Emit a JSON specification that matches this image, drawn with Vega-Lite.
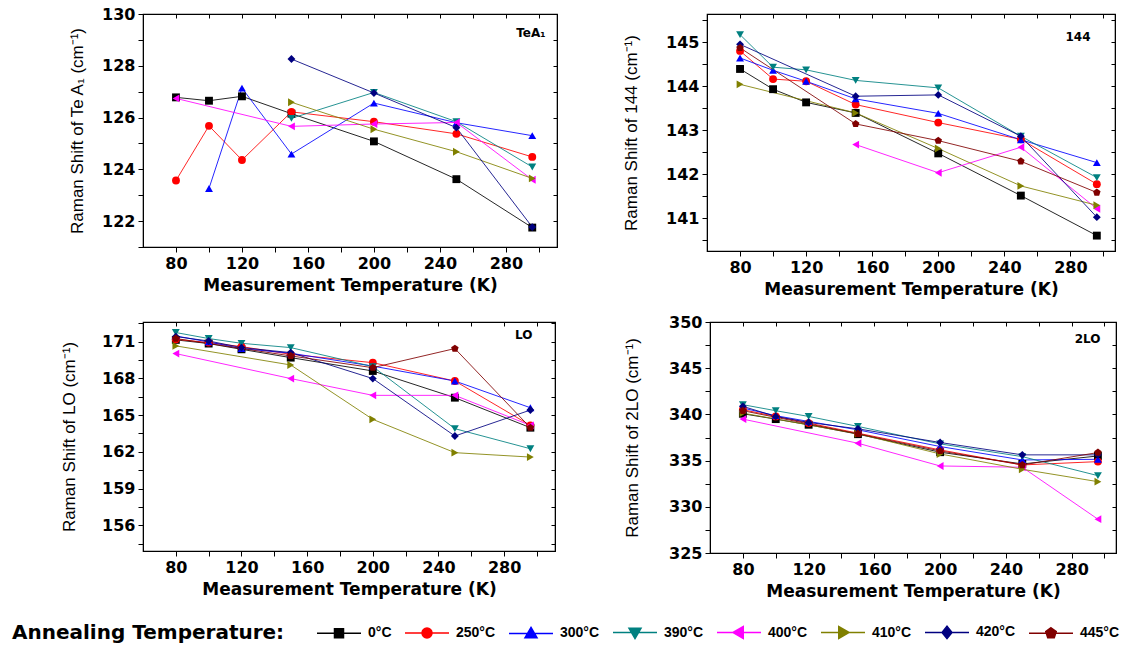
{
  "$schema": "https://vega.github.io/schema/vega-lite/v6.json",
  "background": "white",
  "padding": {"left": 12, "top": 5, "right": 5, "bottom": 5},
  "config": {
    "view": {"stroke": "black", "strokeWidth": 1.2},
    "axis": {
      "grid": false,
      "domainColor": "black",
      "tickColor": "black",
      "labelColor": "black",
      "titleColor": "black",
      "labelFont": "DejaVu Sans",
      "titleFont": "Liberation Sans",
      "labelFontWeight": "bold",
      "labelFontSize": 16,
      "titleFontSize": 17,
      "labelPadding": 3
    },
    "title": {"font": "DejaVu Sans", "fontWeight": "bold", "fontSize": 12, "color": "black"}
  },
  "datasets": {
    "raman": [
      {"panel":"TeA1","T":80,"anneal":"0°C","shift":126.78},
      {"panel":"TeA1","T":100,"anneal":"0°C","shift":126.65},
      {"panel":"TeA1","T":120,"anneal":"0°C","shift":126.82},
      {"panel":"TeA1","T":150,"anneal":"0°C","shift":126.15},
      {"panel":"TeA1","T":200,"anneal":"0°C","shift":125.08},
      {"panel":"TeA1","T":250,"anneal":"0°C","shift":123.62},
      {"panel":"TeA1","T":296,"anneal":"0°C","shift":121.75},
      {"panel":"TeA1","T":80,"anneal":"250°C","shift":123.57},
      {"panel":"TeA1","T":100,"anneal":"250°C","shift":125.68},
      {"panel":"TeA1","T":120,"anneal":"250°C","shift":124.36},
      {"panel":"TeA1","T":150,"anneal":"250°C","shift":126.22},
      {"panel":"TeA1","T":200,"anneal":"250°C","shift":125.84},
      {"panel":"TeA1","T":250,"anneal":"250°C","shift":125.37},
      {"panel":"TeA1","T":296,"anneal":"250°C","shift":124.48},
      {"panel":"TeA1","T":100,"anneal":"300°C","shift":123.26},
      {"panel":"TeA1","T":120,"anneal":"300°C","shift":127.14},
      {"panel":"TeA1","T":150,"anneal":"300°C","shift":124.59},
      {"panel":"TeA1","T":200,"anneal":"300°C","shift":126.56},
      {"panel":"TeA1","T":250,"anneal":"300°C","shift":125.8},
      {"panel":"TeA1","T":296,"anneal":"300°C","shift":125.3},
      {"panel":"TeA1","T":150,"anneal":"390°C","shift":125.97},
      {"panel":"TeA1","T":200,"anneal":"390°C","shift":126.97},
      {"panel":"TeA1","T":250,"anneal":"390°C","shift":125.84},
      {"panel":"TeA1","T":296,"anneal":"390°C","shift":124.09},
      {"panel":"TeA1","T":80,"anneal":"400°C","shift":126.74},
      {"panel":"TeA1","T":150,"anneal":"400°C","shift":125.66},
      {"panel":"TeA1","T":200,"anneal":"400°C","shift":125.75},
      {"panel":"TeA1","T":250,"anneal":"400°C","shift":125.81},
      {"panel":"TeA1","T":296,"anneal":"400°C","shift":123.6},
      {"panel":"TeA1","T":150,"anneal":"410°C","shift":126.59},
      {"panel":"TeA1","T":200,"anneal":"410°C","shift":125.55},
      {"panel":"TeA1","T":250,"anneal":"410°C","shift":124.68},
      {"panel":"TeA1","T":296,"anneal":"410°C","shift":123.65},
      {"panel":"TeA1","T":150,"anneal":"420°C","shift":128.26},
      {"panel":"TeA1","T":200,"anneal":"420°C","shift":126.95},
      {"panel":"TeA1","T":250,"anneal":"420°C","shift":125.61},
      {"panel":"TeA1","T":296,"anneal":"420°C","shift":121.77},

      {"panel":"144","T":80,"anneal":"0°C","shift":144.39},
      {"panel":"144","T":100,"anneal":"0°C","shift":143.93},
      {"panel":"144","T":120,"anneal":"0°C","shift":143.63},
      {"panel":"144","T":150,"anneal":"0°C","shift":143.39},
      {"panel":"144","T":200,"anneal":"0°C","shift":142.47},
      {"panel":"144","T":250,"anneal":"0°C","shift":141.51},
      {"panel":"144","T":296,"anneal":"0°C","shift":140.6},
      {"panel":"144","T":80,"anneal":"250°C","shift":144.8},
      {"panel":"144","T":100,"anneal":"250°C","shift":144.16},
      {"panel":"144","T":120,"anneal":"250°C","shift":144.11},
      {"panel":"144","T":150,"anneal":"250°C","shift":143.58},
      {"panel":"144","T":200,"anneal":"250°C","shift":143.17},
      {"panel":"144","T":250,"anneal":"250°C","shift":142.79},
      {"panel":"144","T":296,"anneal":"250°C","shift":141.77},
      {"panel":"144","T":80,"anneal":"300°C","shift":144.64},
      {"panel":"144","T":100,"anneal":"300°C","shift":144.36},
      {"panel":"144","T":120,"anneal":"300°C","shift":144.11},
      {"panel":"144","T":150,"anneal":"300°C","shift":143.71},
      {"panel":"144","T":200,"anneal":"300°C","shift":143.38},
      {"panel":"144","T":250,"anneal":"300°C","shift":142.78},
      {"panel":"144","T":296,"anneal":"300°C","shift":142.26},
      {"panel":"144","T":80,"anneal":"390°C","shift":145.17},
      {"panel":"144","T":100,"anneal":"390°C","shift":144.43},
      {"panel":"144","T":120,"anneal":"390°C","shift":144.37},
      {"panel":"144","T":150,"anneal":"390°C","shift":144.13},
      {"panel":"144","T":200,"anneal":"390°C","shift":143.96},
      {"panel":"144","T":250,"anneal":"390°C","shift":142.86},
      {"panel":"144","T":296,"anneal":"390°C","shift":141.92},
      {"panel":"144","T":150,"anneal":"400°C","shift":142.67},
      {"panel":"144","T":200,"anneal":"400°C","shift":142.03},
      {"panel":"144","T":250,"anneal":"400°C","shift":142.61},
      {"panel":"144","T":296,"anneal":"400°C","shift":141.21},
      {"panel":"144","T":80,"anneal":"410°C","shift":144.04},
      {"panel":"144","T":150,"anneal":"410°C","shift":143.39},
      {"panel":"144","T":200,"anneal":"410°C","shift":142.58},
      {"panel":"144","T":250,"anneal":"410°C","shift":141.73},
      {"panel":"144","T":296,"anneal":"410°C","shift":141.29},
      {"panel":"144","T":80,"anneal":"420°C","shift":144.95},
      {"panel":"144","T":150,"anneal":"420°C","shift":143.77},
      {"panel":"144","T":200,"anneal":"420°C","shift":143.8},
      {"panel":"144","T":250,"anneal":"420°C","shift":142.86},
      {"panel":"144","T":296,"anneal":"420°C","shift":141.02},
      {"panel":"144","T":80,"anneal":"445°C","shift":144.87},
      {"panel":"144","T":150,"anneal":"445°C","shift":143.14},
      {"panel":"144","T":200,"anneal":"445°C","shift":142.76},
      {"panel":"144","T":250,"anneal":"445°C","shift":142.29},
      {"panel":"144","T":296,"anneal":"445°C","shift":141.58},

      {"panel":"LO","T":80,"anneal":"0°C","shift":171.14},
      {"panel":"LO","T":100,"anneal":"0°C","shift":170.84},
      {"panel":"LO","T":120,"anneal":"0°C","shift":170.37},
      {"panel":"LO","T":150,"anneal":"0°C","shift":169.69},
      {"panel":"LO","T":200,"anneal":"0°C","shift":168.6},
      {"panel":"LO","T":250,"anneal":"0°C","shift":166.42},
      {"panel":"LO","T":296,"anneal":"0°C","shift":163.97},
      {"panel":"LO","T":80,"anneal":"250°C","shift":171.19},
      {"panel":"LO","T":100,"anneal":"250°C","shift":170.92},
      {"panel":"LO","T":120,"anneal":"250°C","shift":170.59},
      {"panel":"LO","T":150,"anneal":"250°C","shift":169.96},
      {"panel":"LO","T":200,"anneal":"250°C","shift":169.28},
      {"panel":"LO","T":250,"anneal":"250°C","shift":167.78},
      {"panel":"LO","T":296,"anneal":"250°C","shift":164.16},
      {"panel":"LO","T":80,"anneal":"300°C","shift":171.46},
      {"panel":"LO","T":100,"anneal":"300°C","shift":170.97},
      {"panel":"LO","T":120,"anneal":"300°C","shift":170.43},
      {"panel":"LO","T":150,"anneal":"300°C","shift":170.05},
      {"panel":"LO","T":200,"anneal":"300°C","shift":169.0},
      {"panel":"LO","T":250,"anneal":"300°C","shift":167.78},
      {"panel":"LO","T":296,"anneal":"300°C","shift":165.6},
      {"panel":"LO","T":80,"anneal":"390°C","shift":171.74},
      {"panel":"LO","T":100,"anneal":"390°C","shift":171.25},
      {"panel":"LO","T":120,"anneal":"390°C","shift":170.86},
      {"panel":"LO","T":150,"anneal":"390°C","shift":170.51},
      {"panel":"LO","T":200,"anneal":"390°C","shift":168.96},
      {"panel":"LO","T":250,"anneal":"390°C","shift":163.89},
      {"panel":"LO","T":296,"anneal":"390°C","shift":162.25},
      {"panel":"LO","T":80,"anneal":"400°C","shift":170.02},
      {"panel":"LO","T":150,"anneal":"400°C","shift":167.98},
      {"panel":"LO","T":200,"anneal":"400°C","shift":166.61},
      {"panel":"LO","T":250,"anneal":"400°C","shift":166.61},
      {"panel":"LO","T":296,"anneal":"400°C","shift":164.16},
      {"panel":"LO","T":80,"anneal":"410°C","shift":170.65},
      {"panel":"LO","T":150,"anneal":"410°C","shift":169.09},
      {"panel":"LO","T":200,"anneal":"410°C","shift":164.65},
      {"panel":"LO","T":250,"anneal":"410°C","shift":161.93},
      {"panel":"LO","T":296,"anneal":"410°C","shift":161.57},
      {"panel":"LO","T":80,"anneal":"420°C","shift":171.41},
      {"panel":"LO","T":100,"anneal":"420°C","shift":171.05},
      {"panel":"LO","T":120,"anneal":"420°C","shift":170.51},
      {"panel":"LO","T":150,"anneal":"420°C","shift":170.1},
      {"panel":"LO","T":200,"anneal":"420°C","shift":167.98},
      {"panel":"LO","T":250,"anneal":"420°C","shift":163.29},
      {"panel":"LO","T":296,"anneal":"420°C","shift":165.41},
      {"panel":"LO","T":80,"anneal":"445°C","shift":171.25},
      {"panel":"LO","T":150,"anneal":"445°C","shift":169.83},
      {"panel":"LO","T":200,"anneal":"445°C","shift":168.87},
      {"panel":"LO","T":250,"anneal":"445°C","shift":170.43},
      {"panel":"LO","T":296,"anneal":"445°C","shift":163.97},

      {"panel":"2LO","T":80,"anneal":"0°C","shift":340.07},
      {"panel":"2LO","T":100,"anneal":"0°C","shift":339.49},
      {"panel":"2LO","T":120,"anneal":"0°C","shift":338.88},
      {"panel":"2LO","T":150,"anneal":"0°C","shift":337.86},
      {"panel":"2LO","T":200,"anneal":"0°C","shift":335.91},
      {"panel":"2LO","T":250,"anneal":"0°C","shift":334.64},
      {"panel":"2LO","T":296,"anneal":"0°C","shift":335.5},
      {"panel":"2LO","T":80,"anneal":"250°C","shift":340.51},
      {"panel":"2LO","T":100,"anneal":"250°C","shift":339.78},
      {"panel":"2LO","T":120,"anneal":"250°C","shift":339.06},
      {"panel":"2LO","T":150,"anneal":"250°C","shift":337.97},
      {"panel":"2LO","T":200,"anneal":"250°C","shift":336.16},
      {"panel":"2LO","T":250,"anneal":"250°C","shift":334.53},
      {"panel":"2LO","T":296,"anneal":"250°C","shift":334.89},
      {"panel":"2LO","T":80,"anneal":"300°C","shift":340.69},
      {"panel":"2LO","T":100,"anneal":"300°C","shift":339.86},
      {"panel":"2LO","T":120,"anneal":"300°C","shift":339.24},
      {"panel":"2LO","T":150,"anneal":"300°C","shift":338.33},
      {"panel":"2LO","T":200,"anneal":"300°C","shift":336.52},
      {"panel":"2LO","T":250,"anneal":"300°C","shift":335.07},
      {"panel":"2LO","T":296,"anneal":"300°C","shift":335.14},
      {"panel":"2LO","T":80,"anneal":"390°C","shift":341.05},
      {"panel":"2LO","T":100,"anneal":"390°C","shift":340.4},
      {"panel":"2LO","T":120,"anneal":"390°C","shift":339.78},
      {"panel":"2LO","T":150,"anneal":"390°C","shift":338.7},
      {"panel":"2LO","T":200,"anneal":"390°C","shift":336.81},
      {"panel":"2LO","T":250,"anneal":"390°C","shift":335.43},
      {"panel":"2LO","T":296,"anneal":"390°C","shift":333.37},
      {"panel":"2LO","T":80,"anneal":"400°C","shift":339.49},
      {"panel":"2LO","T":150,"anneal":"400°C","shift":336.88},
      {"panel":"2LO","T":200,"anneal":"400°C","shift":334.42},
      {"panel":"2LO","T":250,"anneal":"400°C","shift":334.28},
      {"panel":"2LO","T":296,"anneal":"400°C","shift":328.66},
      {"panel":"2LO","T":80,"anneal":"410°C","shift":340.14},
      {"panel":"2LO","T":150,"anneal":"410°C","shift":337.9},
      {"panel":"2LO","T":200,"anneal":"410°C","shift":335.72},
      {"panel":"2LO","T":250,"anneal":"410°C","shift":334.06},
      {"panel":"2LO","T":296,"anneal":"410°C","shift":332.72},
      {"panel":"2LO","T":80,"anneal":"420°C","shift":340.87},
      {"panel":"2LO","T":100,"anneal":"420°C","shift":339.78},
      {"panel":"2LO","T":120,"anneal":"420°C","shift":339.13},
      {"panel":"2LO","T":150,"anneal":"420°C","shift":338.44},
      {"panel":"2LO","T":200,"anneal":"420°C","shift":336.96},
      {"panel":"2LO","T":250,"anneal":"420°C","shift":335.62},
      {"panel":"2LO","T":296,"anneal":"420°C","shift":335.62},
      {"panel":"2LO","T":80,"anneal":"445°C","shift":340.4},
      {"panel":"2LO","T":150,"anneal":"445°C","shift":337.9},
      {"panel":"2LO","T":200,"anneal":"445°C","shift":336.05},
      {"panel":"2LO","T":250,"anneal":"445°C","shift":334.53},
      {"panel":"2LO","T":296,"anneal":"445°C","shift":335.87}
    ]
  },
  "resolve": {"scale": {"x": "independent", "y": "independent", "color": "independent", "shape": "independent", "stroke": "independent"}},
  "spacing": 15,
  "vconcat": [
    {
      "resolve": {"scale": {"x": "independent", "y": "independent"}},
      "spacing": 63,
      "hconcat": [
        {
          "width": 414, "height": 233,
          "title": {"text": "TeA₁", "anchor": "end", "offset": -34, "dx": -12},
          "data": {"name": "raman"},
          "transform": [{"filter": "datum.panel === 'TeA1'"}],
          "layer": [
            {
              "mark": {"type": "line", "strokeWidth": 1, "opacity": 0.85},
              "encoding": {
                "x": {"field": "T", "type": "quantitative", "scale": {"domain": [60, 311], "nice": false, "zero": false},
                      "axis": {"orient": "bottom", "title": "Measurement Temperature (K)", "titleFont": "DejaVu Sans", "titleFontWeight": "bold", "titlePadding": 6, "values": [80,100,120,140,160,180,200,220,240,260,280,300], "labelExpr": "datum.value % 40 === 0 ? datum.label : ''", "tickSize": 5}},
                "y": {"field": "shift", "type": "quantitative", "scale": {"domain": [121, 130], "nice": false, "zero": false},
                      "axis": {"orient": "left", "title": "Raman Shift of Te A₁ (cm⁻¹)", "titleFontWeight": "normal", "titlePadding": 15, "format": ".0f", "values": [121,122,123,124,125,126,127,128,129,130], "labelExpr": "datum.value % 2 === 0 ? datum.label : ''", "tickSize": 5}},
                "color": {"field": "anneal", "type": "nominal", "legend": null,
                          "scale": {"domain": ["0°C","250°C","300°C","390°C","400°C","410°C","420°C","445°C"], "range": ["#000000","#FF0000","#0000FF","#008080","#FF00FF","#808000","#000080","#800000"]}}
              }
            },
            {
              "mark": {"type": "point", "filled": true, "size": 62, "opacity": 1},
              "encoding": {
                "x": {"field": "T", "type": "quantitative", "scale": {"domain": [60, 311], "nice": false, "zero": false},
                      "axis": {"orient": "top", "title": null, "labels": false, "values": [80,100,120,140,160,180,200,220,240,260,280,300], "tickSize": -4}},
                "y": {"field": "shift", "type": "quantitative", "scale": {"domain": [121, 130], "nice": false, "zero": false},
                      "axis": {"orient": "right", "title": null, "labels": false, "values": [121,122,123,124,125,126,127,128,129,130], "tickSize": -4}},
                "color": {"field": "anneal", "type": "nominal", "legend": null},
                "shape": {"field": "anneal", "type": "nominal", "legend": null,
                          "scale": {"domain": ["0°C","250°C","300°C","390°C","400°C","410°C","420°C","445°C"], "range": ["square","circle","triangle-up","triangle-down","triangle-left","triangle-right","diamond","M0,-1L0.951,-0.309L0.588,0.809L-0.588,0.809L-0.951,-0.309Z"]}}
              }
            }
          ]
        },
        {
          "width": 408, "height": 237,
          "title": {"text": "144", "anchor": "end", "offset": -30, "dx": -25},
          "data": {"name": "raman"},
          "transform": [{"filter": "datum.panel === '144'"}],
          "layer": [
            {
              "mark": {"type": "line", "strokeWidth": 1, "opacity": 0.85},
              "encoding": {
                "x": {"field": "T", "type": "quantitative", "scale": {"domain": [60, 307], "nice": false, "zero": false},
                      "axis": {"orient": "bottom", "title": "Measurement Temperature (K)", "titleFont": "DejaVu Sans", "titleFontWeight": "bold", "titlePadding": 6, "values": [80,100,120,140,160,180,200,220,240,260,280,300], "labelExpr": "datum.value % 40 === 0 ? datum.label : ''", "tickSize": 5}},
                "y": {"field": "shift", "type": "quantitative", "scale": {"domain": [140.25, 145.64], "nice": false, "zero": false},
                      "axis": {"orient": "left", "title": "Raman Shift of 144 (cm⁻¹)", "titleFontWeight": "normal", "titlePadding": 25, "format": ".0f", "values": [140.5,141,141.5,142,142.5,143,143.5,144,144.5,145,145.5], "labelExpr": "datum.value % 1 === 0 ? datum.label : ''", "tickSize": 5}},
                "color": {"field": "anneal", "type": "nominal", "legend": null}
              }
            },
            {
              "mark": {"type": "point", "filled": true, "size": 62, "opacity": 1},
              "encoding": {
                "x": {"field": "T", "type": "quantitative", "scale": {"domain": [60, 307], "nice": false, "zero": false},
                      "axis": {"orient": "top", "title": null, "labels": false, "values": [80,100,120,140,160,180,200,220,240,260,280,300], "tickSize": -4}},
                "y": {"field": "shift", "type": "quantitative", "scale": {"domain": [140.25, 145.64], "nice": false, "zero": false},
                      "axis": {"orient": "right", "title": null, "labels": false, "values": [140.5,141,141.5,142,142.5,143,143.5,144,144.5,145,145.5], "tickSize": -4}},
                "color": {"field": "anneal", "type": "nominal", "legend": null},
                "shape": {"field": "anneal", "type": "nominal", "legend": null}
              }
            }
          ]
        }
      ]
    },
    {
      "resolve": {"scale": {"x": "independent", "y": "independent"}},
      "spacing": 66,
      "hconcat": [
        {
          "width": 412, "height": 229,
          "title": {"text": "LO", "anchor": "end", "offset": -20, "dx": -23},
          "data": {"name": "raman"},
          "transform": [{"filter": "datum.panel === 'LO'"}],
          "layer": [
            {
              "mark": {"type": "line", "strokeWidth": 1, "opacity": 0.85},
              "encoding": {
                "x": {"field": "T", "type": "quantitative", "scale": {"domain": [60, 311], "nice": false, "zero": false},
                      "axis": {"orient": "bottom", "title": "Measurement Temperature (K)", "titleFont": "DejaVu Sans", "titleFontWeight": "bold", "titlePadding": 6, "values": [80,100,120,140,160,180,200,220,240,260,280,300], "labelExpr": "datum.value % 40 === 0 ? datum.label : ''", "tickSize": 5}},
                "y": {"field": "shift", "type": "quantitative", "scale": {"domain": [153.9, 172.6], "nice": false, "zero": false},
                      "axis": {"orient": "left", "title": "Raman Shift of LO (cm⁻¹)", "titleFontWeight": "normal", "titlePadding": 23, "format": ".0f", "values": [154.5,156,157.5,159,160.5,162,163.5,165,166.5,168,169.5,171,172.5], "labelExpr": "datum.value % 3 === 0 ? datum.label : ''", "tickSize": 5}},
                "color": {"field": "anneal", "type": "nominal", "legend": null,
                          "scale": {"domain": ["0°C","250°C","300°C","390°C","400°C","410°C","420°C","445°C"], "range": ["#000000","#FF0000","#0000FF","#008080","#FF00FF","#808000","#000080","#800000"]}}
              }
            },
            {
              "mark": {"type": "point", "filled": true, "size": 62, "opacity": 1},
              "encoding": {
                "x": {"field": "T", "type": "quantitative", "scale": {"domain": [60, 311], "nice": false, "zero": false},
                      "axis": {"orient": "top", "title": null, "labels": false, "values": [80,100,120,140,160,180,200,220,240,260,280,300], "tickSize": -4}},
                "y": {"field": "shift", "type": "quantitative", "scale": {"domain": [153.9, 172.6], "nice": false, "zero": false},
                      "axis": {"orient": "right", "title": null, "labels": false, "values": [154.5,156,157.5,159,160.5,162,163.5,165,166.5,168,169.5,171,172.5], "tickSize": -4}},
                "color": {"field": "anneal", "type": "nominal", "legend": null},
                "shape": {"field": "anneal", "type": "nominal", "legend": null,
                          "scale": {"domain": ["0°C","250°C","300°C","390°C","400°C","410°C","420°C","445°C"], "range": ["square","circle","triangle-up","triangle-down","triangle-left","triangle-right","diamond","M0,-1L0.951,-0.309L0.588,0.809L-0.588,0.809L-0.951,-0.309Z"]}}
              }
            }
          ]
        },
        {
          "width": 406, "height": 231,
          "title": {"text": "2LO", "anchor": "end", "offset": -32, "dx": -16},
          "data": {"name": "raman"},
          "transform": [{"filter": "datum.panel === '2LO'"}],
          "layer": [
            {
              "mark": {"type": "line", "strokeWidth": 1, "opacity": 0.85},
              "encoding": {
                "x": {"field": "T", "type": "quantitative", "scale": {"domain": [60, 307], "nice": false, "zero": false},
                      "axis": {"orient": "bottom", "title": "Measurement Temperature (K)", "titleFont": "DejaVu Sans", "titleFontWeight": "bold", "titlePadding": 6, "values": [80,100,120,140,160,180,200,220,240,260,280,300], "labelExpr": "datum.value % 40 === 0 ? datum.label : ''", "tickSize": 5}},
                "y": {"field": "shift", "type": "quantitative", "scale": {"domain": [325, 350], "nice": false, "zero": false},
                      "axis": {"orient": "left", "title": "Raman Shift of 2LO (cm⁻¹)", "titleFontWeight": "normal", "titlePadding": 27, "format": ".0f", "values": [325,327.5,330,332.5,335,337.5,340,342.5,345,347.5,350], "labelExpr": "datum.value % 5 === 0 ? datum.label : ''", "tickSize": 5}},
                "color": {"field": "anneal", "type": "nominal", "legend": null}
              }
            },
            {
              "mark": {"type": "point", "filled": true, "size": 62, "opacity": 1},
              "encoding": {
                "x": {"field": "T", "type": "quantitative", "scale": {"domain": [60, 307], "nice": false, "zero": false},
                      "axis": {"orient": "top", "title": null, "labels": false, "values": [80,100,120,140,160,180,200,220,240,260,280,300], "tickSize": -4}},
                "y": {"field": "shift", "type": "quantitative", "scale": {"domain": [325, 350], "nice": false, "zero": false},
                      "axis": {"orient": "right", "title": null, "labels": false, "values": [325,327.5,330,332.5,335,337.5,340,342.5,345,347.5,350], "tickSize": -4}},
                "color": {"field": "anneal", "type": "nominal", "legend": null},
                "shape": {"field": "anneal", "type": "nominal", "legend": null}
              }
            }
          ]
        }
      ]
    },
    {
      "width": 1, "height": 1,
      "view": {"stroke": null},
      "data": {"name": "raman"},
      "transform": [{"filter": "false"}],
      "mark": {"type": "point", "filled": true, "opacity": 1},
      "encoding": {
        "color": {"field": "anneal", "type": "nominal",
                  "scale": {"domain": ["0°C","250°C","300°C","390°C","400°C","410°C","420°C","445°C"], "range": ["#000000","#FF0000","#0000FF","#008080","#FF00FF","#808000","#000080","#800000"]},
                  "legend": {"orient": "none", "legendX": -131, "legendY": 10, "direction": "horizontal", "columns": 8, "title": "Annealing Temperature:", "titleOrient": "left", "titleLimit": 500, "titleFont": "DejaVu Sans", "titleFontSize": 20, "titleFontWeight": "bold", "titleColor": "black", "titleBaseline": "middle", "titlePadding": 47, "labelFont": "Liberation Sans", "labelFontSize": 14, "labelFontWeight": "bold", "labelColor": "black", "symbolSize": 100, "symbolStrokeWidth": 1.5, "symbolOpacity": 1, "labelOffset": 22, "columnPadding": 10}},
        "stroke": {"field": "anneal", "type": "nominal",
                  "scale": {"domain": ["0°C","250°C","300°C","390°C","400°C","410°C","420°C","445°C"], "range": ["#000000","#FF0000","#0000FF","#008080","#FF00FF","#808000","#000080","#800000"]},
                  "legend": {"orient": "none", "legendX": -131, "legendY": 10, "direction": "horizontal", "columns": 8, "title": "Annealing Temperature:", "titleOrient": "left", "titleLimit": 500, "titleFont": "DejaVu Sans", "titleFontSize": 20, "titleFontWeight": "bold", "titleColor": "black", "titleBaseline": "middle", "titlePadding": 47, "labelFont": "Liberation Sans", "labelFontSize": 14, "labelFontWeight": "bold", "labelColor": "black", "symbolSize": 100, "symbolStrokeWidth": 1.5, "symbolOpacity": 1, "labelOffset": 22, "columnPadding": 10}},
        "shape": {"field": "anneal", "type": "nominal",
                  "scale": {"domain": ["0°C","250°C","300°C","390°C","400°C","410°C","420°C","445°C"],
                            "range": ["M-4.4,0H4.4M-0.9,-0.9H0.9V0.9H-0.9Z","M-4.4,0H4.4M1,0A1,1,0,1,1,-1,0A1,1,0,1,1,1,0Z","M-4.4,0H4.4M0,-1.2L1.2,0.85L-1.2,0.85Z","M-4.4,0H4.4M0,1.2L1.2,-0.85L-1.2,-0.85Z","M-4.4,0H4.4M-1.2,0L0.85,-1.2L0.85,1.2Z","M-4.4,0H4.4M1.2,0L-0.85,-1.2L-0.85,1.2Z","M-4.4,0H4.4M0,-1.25L1,0L0,1.25L-1,0Z","M-4.4,0H4.4M0,-1.1L1.05,-0.34L0.65,0.89L-0.65,0.89L-1.05,-0.34Z"]},
                  "legend": {"orient": "none", "legendX": -131, "legendY": 10, "direction": "horizontal", "columns": 8, "title": "Annealing Temperature:", "titleOrient": "left", "titleLimit": 500, "titleFont": "DejaVu Sans", "titleFontSize": 20, "titleFontWeight": "bold", "titleColor": "black", "titleBaseline": "middle", "titlePadding": 47, "labelFont": "Liberation Sans", "labelFontSize": 14, "labelFontWeight": "bold", "labelColor": "black", "symbolSize": 100, "symbolStrokeWidth": 1.5, "symbolOpacity": 1, "labelOffset": 22, "columnPadding": 10}}
      }
    }
  ]
}
